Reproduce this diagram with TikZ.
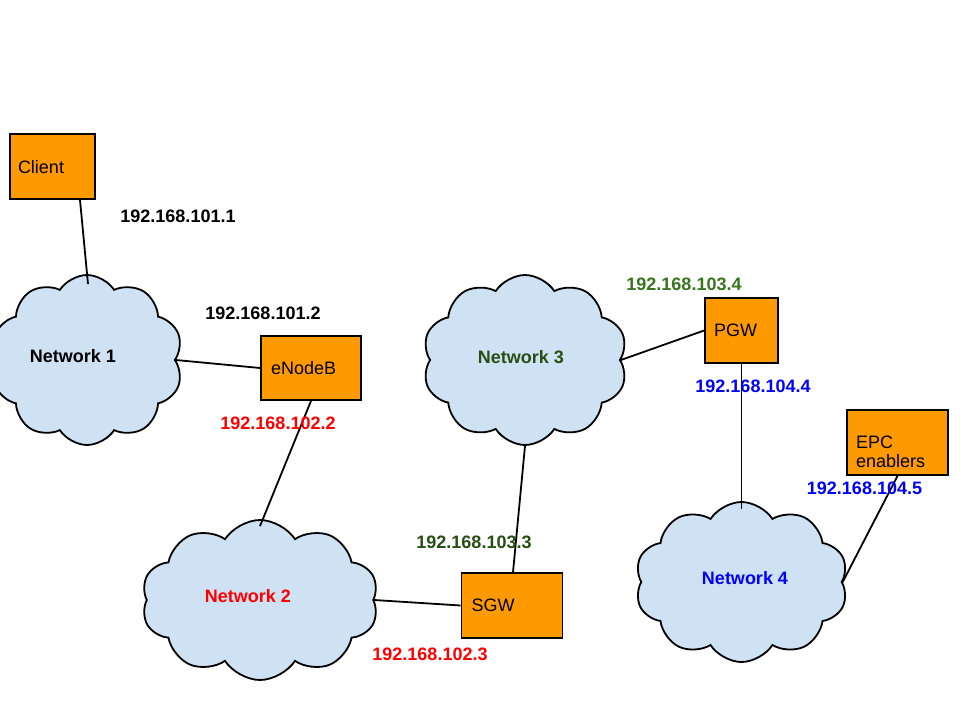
\documentclass[tikz,border=0pt]{standalone}
\usepackage{fontspec}
\setmainfont{Liberation Sans}
\usetikzlibrary{shapes.symbols}
\definecolor{boxorange}{HTML}{FF9900}
\definecolor{cloudblue}{HTML}{CFE2F3}
\definecolor{ipred}{HTML}{FF0000}
\definecolor{ipgreen}{HTML}{38761D}
\definecolor{darkgreen}{HTML}{274E13}
\definecolor{ipblue}{HTML}{0000FF}
\begin{document}
\begin{tikzpicture}[x=1pt,y=-1pt,
  every node/.style={font=\fontsize{18}{21}\selectfont},
  devbox/.style={draw=black, line width=1.8pt, fill=boxorange, rectangle,
    inner sep=0pt, align=left, text depth=0pt},
  net/.style={cloud, draw=black, line width=1.8pt, fill=cloudblue, cloud puffs=10,
    cloud puff arc=115, cloud ignores aspect, inner sep=0pt},
  netlabel/.style={font=\fontsize{18}{21}\selectfont\bfseries},
  iplabel/.style={font=\fontsize{18}{21}\selectfont\bfseries, inner sep=0pt},
  link/.style={draw=black, line width=1.8pt}]
\useasboundingbox[fill=white] (0,0) rectangle (960,720);

% clouds
\node[net, minimum width=192pt, minimum height=170pt] (n1) at (87,360) {};
\node[net, minimum width=237pt, minimum height=160pt] (n2) at (260,600) {};
\node[net, minimum width=205pt, minimum height=170pt] (n3) at (525,360) {};
\node[net, minimum width=213pt, minimum height=160pt] (n4) at (741.5,582) {};

\node[netlabel, text=black] (n1l) at (73,356) {Network 1};
\node[netlabel, text=ipred] (n2l) at (248,596) {Network 2};
\node[netlabel, text=darkgreen] (n3l) at (521,357) {Network 3};
\node[netlabel, text=ipblue] (n4l) at (745,578) {Network 4};

% devices
\node[devbox, minimum width=85pt, minimum height=65pt, text width=69pt] (cl) at (52.5,166.5) {Client};
\node[devbox, minimum width=100pt, minimum height=64pt, text width=80pt] (enb) at (311,368) {eNodeB};
\node[devbox, minimum width=101pt, minimum height=65pt, text width=81pt] (sgw) at (512,605.5) {SGW};
\node[devbox, minimum width=73pt, minimum height=65pt, text width=55pt] (pgw) at (741.5,330.5) {PGW};
\node[devbox, minimum width=101pt, minimum height=65pt, text width=83pt] (epc) at (897.5,442.5) {EPC\\[-2pt]enablers};

% links
\draw[link] ([xshift=27.5pt]cl.south) -- ([xshift=1pt,yshift=-10pt]n1.north);
\draw[link] (n1.east) -- (enb.west);
\draw[link] (enb.south) -- ([yshift=-7pt]n2.north);
\draw[link] (n2.east) -- (sgw.west);
\draw[link] (n3.south) -- ([xshift=1pt]sgw.north);
\draw[link] (n3.east) -- (pgw.west);
\draw[link] (pgw.south) -- ([yshift=-8pt]n4.north);
\draw[link] (epc.south) -- (n4.east);

% addresses
\node[iplabel, text=black] (ip1) at (178,216) {192.168.101.1};
\node[iplabel, text=black] (ip2) at (263,313) {192.168.101.2};
\node[iplabel, text=ipred] (ip3) at (278,423) {192.168.102.2};
\node[iplabel, text=ipred] (ip4) at (430,654) {192.168.102.3};
\node[iplabel, text=darkgreen] (ip5) at (474,542) {192.168.103.3};
\node[iplabel, text=ipgreen] (ip6) at (684,284) {192.168.103.4};
\node[iplabel, text=ipblue] (ip7) at (753,386) {192.168.104.4};
\node[iplabel, text=ipblue] (ip8) at (864.5,488) {192.168.104.5};
\end{tikzpicture}
\end{document}
